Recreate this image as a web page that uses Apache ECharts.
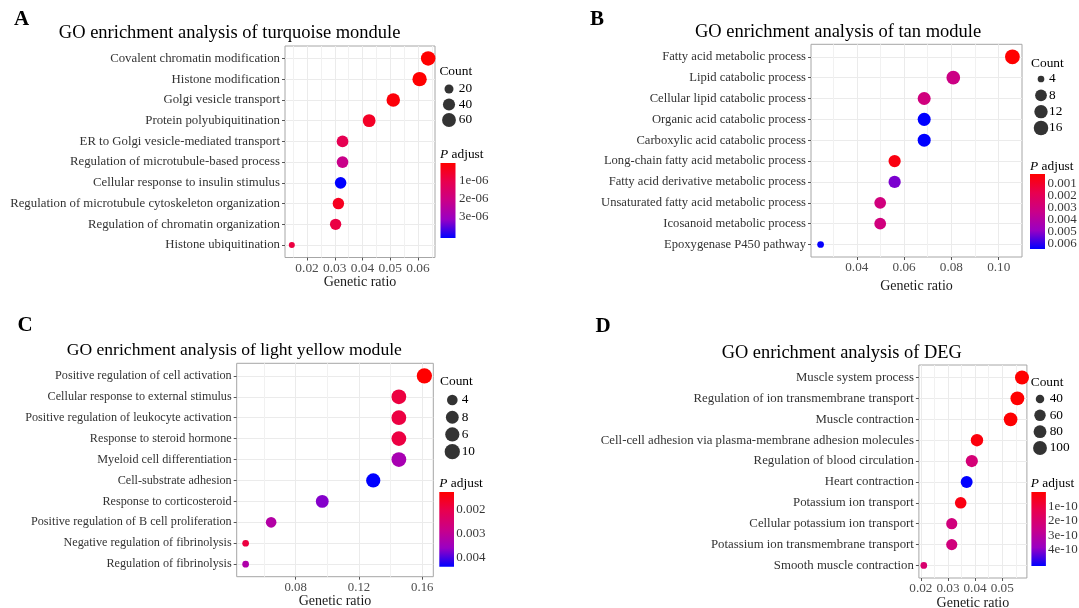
<!DOCTYPE html>
<html><head><meta charset="utf-8">
<script src="https://cdn.jsdelivr.net/npm/echarts@6/dist/echarts.min.js"></script>
<style>html,body{margin:0;padding:0;background:#fff}#c{width:1079px;height:608px}</style>
</head><body><div id="c"></div>
<script>
// ---------- DATA ----------
// Panel A
const termsA = ['Covalent chromatin modification','Histone modification','Golgi vesicle transport','Protein polyubiquitination','ER to Golgi vesicle-mediated transport','Regulation of microtubule-based process','Cellular response to insulin stimulus','Regulation of microtubule cytoskeleton organization','Regulation of chromatin organization','Histone ubiquitination'];
const ratioA = [0.0637,0.0606,0.0511,0.0424,0.0328,0.0328,0.0321,0.0313,0.0303,0.0145];
const countA = [70,67,56,47,36,36,35,34,33,16];
const padjA = [2e-9,1.5e-8,1.2e-7,5e-7,1.1e-6,2.1e-6,4.17e-6,4.2e-7,9e-7,8.5e-7];
const xTicksA = [0.02,0.03,0.04,0.05,0.06];
const xTickLabelsA = ['0.02','0.03','0.04','0.05','0.06'];
const sizeBreaksA = [20,40,60];
const sizeLabelsA = ['20','40','60'];
const colorBreaksA = [1e-6,2e-6,3e-6];
const colorLabelsA = ['1e-06','2e-06','3e-06'];

// Panel B
const termsB = ['Fatty acid metabolic process','Lipid catabolic process','Cellular lipid catabolic process','Organic acid catabolic process','Carboxylic acid catabolic process','Long-chain fatty acid metabolic process','Fatty acid derivative metabolic process','Unsaturated fatty acid metabolic process','Icosanoid metabolic process','Epoxygenase P450 pathway'];
const ratioB = [0.1058,0.0808,0.0685,0.0685,0.0685,0.0560,0.0560,0.0499,0.0499,0.0247];
const countB = [17,13,11,11,11,9,9,8,8,4];
const padjB = [0.000167,0.00317,0.0030,0.00641,0.00641,0.00048,0.00517,0.0030,0.0030,0.00635];
const xTicksB = [0.04,0.06,0.08,0.10];
const xTickLabelsB = ['0.04','0.06','0.08','0.10'];
const sizeBreaksB = [4,8,12,16];
const sizeLabelsB = ['4','8','12','16'];
const colorBreaksB = [0.001,0.002,0.003,0.004,0.005,0.006];
const colorLabelsB = ['0.001','0.002','0.003','0.004','0.005','0.006'];

// Panel C
const termsC = ['Positive regulation of cell activation','Cellular response to external stimulus','Positive regulation of leukocyte activation','Response to steroid hormone','Myeloid cell differentiation','Cell-substrate adhesion','Response to corticosteroid','Positive regulation of B cell proliferation','Negative regulation of fibrinolysis','Regulation of fibrinolysis'];
const ratioC = [0.1613,0.1452,0.1452,0.1452,0.1452,0.1290,0.0968,0.0645,0.0484,0.0484];
const countC = [10,9,9,9,9,8,6,4,3,3];
const padjC = [0.00125,0.00188,0.0019,0.0019,0.00337,0.004375,0.0037,0.00319,0.00188,0.00325];
const xTicksC = [0.08,0.12,0.16];
const xTickLabelsC = ['0.08','0.12','0.16'];
const sizeBreaksC = [4,6,8,10];
const sizeLabelsC = ['4','8','6','10'];
const colorBreaksC = [0.002,0.003,0.004];
const colorLabelsC = ['0.002','0.003','0.004'];

// Panel D
const termsD = ['Muscle system process','Regulation of ion transmembrane transport','Muscle contraction','Cell-cell adhesion via plasma-membrane adhesion molecules','Regulation of blood circulation','Heart contraction','Potassium ion transport','Cellular potassium ion transport','Potassium ion transmembrane transport','Smooth muscle contraction'];
const ratioD = [0.0573,0.0556,0.0531,0.0407,0.0388,0.0369,0.0347,0.0314,0.0314,0.0211];
const countD = [103,100,96,73,70,66,62,57,57,38];
const padjD = [1e-12,2e-12,5e-12,2e-11,2.15e-10,5.11e-10,3e-11,2.3e-10,2.3e-10,1.95e-10];
const xTicksD = [0.02,0.03,0.04,0.05];
const xTickLabelsD = ['0.02','0.03','0.04','0.05'];
const sizeBreaksD = [40,60,80,100];
const sizeLabelsD = ['40','60','80','100'];
const colorBreaksD = [1e-10,2e-10,3e-10,4e-10];
const colorLabelsD = ['1e-10','2e-10','3e-10','4e-10'];

// ---------- STYLE / LAYOUT ----------
const FONT = "'Liberation Serif','Times New Roman',serif";
const GRAD = ['#FF0000','#E8004F','#CA0088','#9A00C3','#0000FF'];

const panels = [
  {letter:'A', title:'GO enrichment analysis of turquoise mondule', terms:termsA, ratio:ratioA, count:countA, padj:padjA,
   xTicks:xTicksA, xTickLabels:xTickLabelsA, sizeBreaks:sizeBreaksA, sizeLabels:sizeLabelsA, colorBreaks:colorBreaksA, colorLabels:colorLabelsA,
   lay:{letter:[21.5,20], title:[58.8,33,18.5], grid:[285,46,150,211.5], yFs:12.8, xFs:13.4, nameGap:18, dia:[6,14.5],
        countTitle:[439.4,71], countCx:449, countRows:[89,120], countLabelX:458.8, padjTitle:[440,154], bar:[440.5,163,15,75], barLabelX:458.5}},
  {letter:'B', title:'GO enrichment analysis of tan module', terms:termsB, ratio:ratioB, count:countB, padj:padjB,
   xTicks:xTicksB, xTickLabels:xTickLabelsB, sizeBreaks:sizeBreaksB, sizeLabels:sizeLabelsB, colorBreaks:colorBreaksB, colorLabels:colorLabelsB,
   lay:{letter:[597,20], title:[695,32.3,18.5], grid:[811,44.3,211,212.7], yFs:12.6, xFs:13.2, nameGap:22, dia:[6.7,14.8],
        countTitle:[1031,63], countCx:1041, countRows:[79,128], countLabelX:1049, padjTitle:[1030,166], bar:[1030,174,15,75], barLabelX:1047}},
  {letter:'C', title:'GO enrichment analysis of light yellow module', terms:termsC, ratio:ratioC, count:countC, padj:padjC,
   xTicks:xTicksC, xTickLabels:xTickLabelsC, sizeBreaks:sizeBreaksC, sizeLabels:sizeLabelsC, colorBreaks:colorBreaksC, colorLabels:colorLabelsC,
   lay:{letter:[25,325.5], title:[66.7,350,17.6], grid:[236.7,363.3,196.6,213.4], yFs:12.2, xFs:12.8, nameGap:17, dia:[6.7,15.3],
        countTitle:[440,381], countCx:452.3, countRows:[400,451.7], countLabelX:461.7, padjTitle:[439.3,483], bar:[439.3,492,14.7,74.7], barLabelX:455.7}},
  {letter:'D', title:'GO enrichment analysis of DEG', terms:termsD, ratio:ratioD, count:countD, padj:padjD,
   xTicks:xTicksD, xTickLabels:xTickLabelsD, sizeBreaks:sizeBreaksD, sizeLabels:sizeLabelsD, colorBreaks:colorBreaksD, colorLabels:colorLabelsD,
   lay:{letter:[603,327], title:[721.7,353,18.4], grid:[918.9,365,108,213], yFs:12.8, xFs:13.2, nameGap:17, dia:[6.7,14],
        countTitle:[1030.7,382], countCx:1040, countRows:[399,448], countLabelX:1049.7, padjTitle:[1030.7,483], bar:[1031.4,492,14.5,74], barLabelX:1047.6}}
];

function lookup(vals, labels, v) {
  for (let i = 0; i < vals.length; i++) {
    if (Math.abs(vals[i] - v) <= Math.abs(vals[i]) * 1e-6) return labels[i];
  }
  return '';
}

const NOLINE = {show:false, onZero:false};
const grid = [], xAxis = [], yAxis = [], series = [], visualMap = [], graphic = [];

panels.forEach(p => {
  const L = p.lay;
  const lo = Math.min(...p.ratio), hi = Math.max(...p.ratio), pad = (hi - lo) * 0.05;
  const xmin = lo - pad, xmax = hi + pad;
  const step = p.xTicks[1] - p.xTicks[0];
  const minor = [p.xTicks[0] - step / 2].concat(p.xTicks.map(t => t + step / 2));
  const n = p.terms.length;
  const idx = p.terms.map((_, i) => i);
  const cmin = Math.min(...p.count), cmax = Math.max(...p.count);
  const size = c => L.dia[0] + (L.dia[1] - L.dia[0]) * Math.pow(Math.max(0, c - cmin) / (cmax - cmin), 0.4);
  const pmin = Math.min(...p.padj), pmax = Math.max(...p.padj);

  // main plot
  const gi = grid.length;
  grid.push({left:L.grid[0], top:L.grid[1], width:L.grid[2], height:L.grid[3], show:true,
             borderColor:'#A6A6A6', borderWidth:1, backgroundColor:'#ffffff', containLabel:false, outerBoundsMode:'none'});
  const xi = xAxis.length;
  xAxis.push({type:'value', gridIndex:gi, min:xmin, max:xmax, position:'bottom',
    axisLine:NOLINE,
    axisTick:{show:true, customValues:p.xTicks, length:3, lineStyle:{color:'#555'}},
    axisLabel:{customValues:p.xTicks, formatter:v => lookup(p.xTicks, p.xTickLabels, v), margin:4,
               fontSize:L.xFs, color:'#4d4d4d', fontFamily:FONT, showMinLabel:true, showMaxLabel:true},
    splitLine:{show:true, lineStyle:{color:'#EBEBEB', width:1}},
    name:'Genetic ratio', nameLocation:'middle', nameGap:L.nameGap,
    nameTextStyle:{fontSize:14, color:'#1a1a1a', fontFamily:FONT}});
  xAxis.push({type:'value', gridIndex:gi, min:xmin, max:xmax, position:'top',
    axisLine:NOLINE, axisTick:{show:false, customValues:minor}, axisLabel:{show:false},
    splitLine:{show:true, lineStyle:{color:'#F1F1F1', width:1}}});
  const yi = yAxis.length;
  yAxis.push({type:'value', gridIndex:gi, min:-0.6, max:n - 1 + 0.6, inverse:true,
    axisLine:NOLINE,
    axisTick:{show:true, customValues:idx, length:3, lineStyle:{color:'#555'}},
    axisLabel:{customValues:idx, formatter:v => p.terms[Math.round(v)] || '', margin:5,
               fontSize:L.yFs, color:'#333', fontFamily:FONT, showMinLabel:true, showMaxLabel:true},
    splitLine:{show:true, lineStyle:{color:'#EBEBEB', width:1}}});
  const si = series.length;
  series.push({type:'scatter', xAxisIndex:xi, yAxisIndex:yi, silent:true, z:3,
    data:p.ratio.map((r, i) => [r, i, p.count[i], p.padj[i]]),
    symbolSize:v => size(v[2]), itemStyle:{opacity:1}});
  visualMap.push({type:'continuous', show:false, seriesIndex:si, dimension:3, min:pmin, max:pmax,
    inRange:{color:GRAD}});

  // count (size) legend
  const m = p.sizeBreaks.length;
  const stepR = (L.countRows[1] - L.countRows[0]) / (m - 1);
  const hw = L.countLabelX - L.countCx - 1;
  const cg = grid.length;
  grid.push({left:L.countCx - hw, width:2 * hw, top:L.countRows[0] - stepR / 2, height:stepR * m, show:false, outerBoundsMode:'none'});
  const cxi = xAxis.length;
  xAxis.push({type:'value', gridIndex:cg, min:-1, max:1, show:false, axisLine:NOLINE});
  const cyi = yAxis.length;
  yAxis.push({type:'value', gridIndex:cg, min:-0.5, max:m - 0.5, inverse:true, position:'right',
    axisLine:NOLINE, axisTick:{show:false}, splitLine:{show:false},
    axisLabel:{customValues:p.sizeBreaks.map((_, i) => i), formatter:v => p.sizeLabels[Math.round(v)] || '',
               margin:1, fontSize:13.3, color:'#000', fontFamily:FONT, showMinLabel:true, showMaxLabel:true}});
  series.push({type:'scatter', xAxisIndex:cxi, yAxisIndex:cyi, silent:true,
    data:p.sizeBreaks.map((c, i) => [0, i, c]), symbolSize:v => size(v[2]), itemStyle:{color:'#000'}});

  // colour bar (gradient + labels placed through the bar's own value axis)
  const bg = grid.length;
  grid.push({left:L.bar[0], top:L.bar[1], width:L.bar[2], height:L.bar[3], show:false, outerBoundsMode:'none'});
  const bxi = xAxis.length;
  xAxis.push({type:'value', gridIndex:bg, min:0, max:1, show:false, axisLine:NOLINE});
  const byi = yAxis.length;
  yAxis.push({type:'value', gridIndex:bg, min:pmin, max:pmax, inverse:true, show:false, axisLine:NOLINE});
  series.push({type:'scatter', xAxisIndex:bxi, yAxisIndex:byi, silent:true, z:5,
    data:p.colorBreaks.map((v, i) => [1, v, i]), symbolSize:1, itemStyle:{color:'rgba(0,0,0,0)'},
    label:{show:true, position:'right', distance:L.barLabelX - (L.bar[0] + L.bar[2]),
      formatter:q => p.colorLabels[q.data[2]], fontSize:13, color:'#000', fontFamily:FONT},
    labelLayout:{hideOverlap:false}});
  graphic.push({type:'rect', shape:{x:L.bar[0], y:L.bar[1], width:L.bar[2], height:L.bar[3]},
    style:{fill:{type:'linear', x:0, y:0, x2:0, y2:1,
      colorStops:GRAD.map((c, i) => ({offset:i / (GRAD.length - 1), color:c}))}}, silent:true});

  // texts
  graphic.push({type:'text', x:L.letter[0], y:L.letter[1], silent:true,
    style:{text:p.letter, fontSize:21, fontWeight:'bold', fontFamily:FONT, fill:'#000', align:'center', verticalAlign:'middle'}});
  graphic.push({type:'text', x:L.title[0], y:L.title[1], silent:true,
    style:{text:p.title, fontSize:L.title[2], fontFamily:FONT, fill:'#000', align:'left', verticalAlign:'middle'}});
  graphic.push({type:'text', x:L.countTitle[0], y:L.countTitle[1], silent:true,
    style:{text:'Count', fontSize:13.4, fontFamily:FONT, fill:'#000', align:'left', verticalAlign:'middle'}});
  graphic.push({type:'text', x:L.padjTitle[0], y:L.padjTitle[1], silent:true,
    style:{text:'{i|P} adjust', fontSize:13.4, fontFamily:FONT, fill:'#000', align:'left', verticalAlign:'middle',
      rich:{i:{fontStyle:'italic', fontSize:13.4, fontFamily:FONT, fill:'#000'}}}});
});

const chart = echarts.init(document.getElementById('c'), null, {renderer:'canvas'});
chart.setOption({
  animation:false,
  backgroundColor:'#ffffff',
  textStyle:{fontFamily:FONT},
  grid, xAxis, yAxis, series, visualMap, graphic
});
</script>
</body></html>
